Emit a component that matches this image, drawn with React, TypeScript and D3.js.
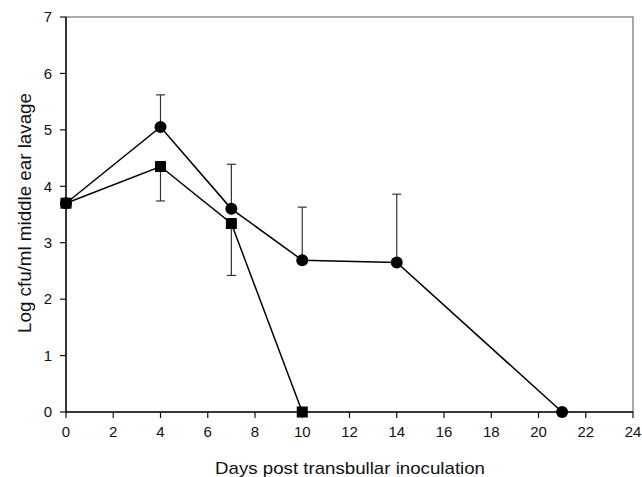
import React from "react";
import * as d3 from "d3";

const circleDays = [0, 4, 7, 10, 14, 21];
const circleValues = [3.7, 5.05, 3.6, 2.69, 2.65, 0];
const circleErrUp = [null, 5.62, 4.39, 3.63, 3.86, null];

const squareDays = [0, 4, 7, 10];
const squareValues = [3.7, 4.35, 3.34, 0];
const squareErrDown = [null, 3.74, 2.42, null];

const xTicks = [0, 2, 4, 6, 8, 10, 12, 14, 16, 18, 20, 22, 24];
const yTicks = [0, 1, 2, 3, 4, 5, 6, 7];

const W = 642;
const H = 477;
const margin = { left: 66, right: 9, top: 17, bottom: 65 };

export default function App() {
  const x = d3.scaleLinear().domain([0, 24]).range([margin.left, W - margin.right]);
  const y = d3.scaleLinear().domain([0, 7]).range([H - margin.bottom, margin.top]);
  const line = d3
    .line<[number, number]>()
    .x((d) => x(d[0]))
    .y((d) => y(d[1]));
  const circPts: [number, number][] = circleDays.map((d, i) => [d, circleValues[i]]);
  const sqPts: [number, number][] = squareDays.map((d, i) => [d, squareValues[i]]);
  const font = "'Liberation Sans', Arial, sans-serif";
  const x0 = x(0);
  const y0 = y(0);
  const cap = 4.5;
  return (
    <svg
      width={W}
      height={H}
      style={{ position: "absolute", left: 0, top: 0, display: "block", background: "#fff" }}
      fontFamily={font}
    >
      {/* frame */}
      <rect x={x(0)} y={y(7)} width={x(24) - x(0)} height={y(0) - y(7)} fill="none" stroke="#555" strokeWidth={1} />
      <line x1={x0} x2={x0} y1={y(7)} y2={y0} stroke="#111" strokeWidth={1.5} />
      <line x1={x0} x2={x(24)} y1={y0} y2={y0} stroke="#111" strokeWidth={1.5} />
      {/* y ticks */}
      {yTicks.map((t) => (
        <g key={"y" + t}>
          <line x1={x0 - 6} x2={x0} y1={y(t)} y2={y(t)} stroke="#111" strokeWidth={1.2} />
          <text x={x0 - 14} y={y(t)} dy="0.35em" textAnchor="end" fontSize={15} fill="#111">
            {t}
          </text>
        </g>
      ))}
      {/* x ticks */}
      {xTicks.map((t) => (
        <g key={"x" + t}>
          <line x1={x(t)} x2={x(t)} y1={y0} y2={y0 + 6} stroke="#111" strokeWidth={1.2} />
          <text x={x(t)} y={y0 + 25} textAnchor="middle" fontSize={15} fill="#111">
            {t}
          </text>
        </g>
      ))}
      {/* axis titles */}
      <text
        transform={`translate(31, 213) rotate(-90)`}
        textAnchor="middle"
        fontSize={17.5}
        textLength={240}
        lengthAdjust="spacingAndGlyphs"
        fill="#111"
      >
        Log cfu/ml middle ear lavage
      </text>
      <text
        x={350}
        y={474}
        textAnchor="middle"
        fontSize={17}
        textLength={270}
        lengthAdjust="spacingAndGlyphs"
        fill="#111"
      >
        Days post transbullar inoculation
      </text>
      {/* error bars */}
      {circleDays.map((d, i) =>
        circleErrUp[i] == null ? null : (
          <g key={"ce" + i} stroke="#333" strokeWidth={1.2}>
            <line x1={x(d)} x2={x(d)} y1={y(circleValues[i])} y2={y(circleErrUp[i] as number)} />
            <line x1={x(d) - cap} x2={x(d) + cap} y1={y(circleErrUp[i] as number)} y2={y(circleErrUp[i] as number)} />
          </g>
        )
      )}
      {squareDays.map((d, i) =>
        squareErrDown[i] == null ? null : (
          <g key={"se" + i} stroke="#333" strokeWidth={1.2}>
            <line x1={x(d)} x2={x(d)} y1={y(squareValues[i])} y2={y(squareErrDown[i] as number)} />
            <line x1={x(d) - cap} x2={x(d) + cap} y1={y(squareErrDown[i] as number)} y2={y(squareErrDown[i] as number)} />
          </g>
        )
      )}
      {/* lines */}
      <path d={line(circPts) || ""} fill="none" stroke="#000" strokeWidth={1.5} />
      <path d={line(sqPts) || ""} fill="none" stroke="#000" strokeWidth={1.5} />
      {/* markers */}
      {circPts.map((p, i) => (
        <circle key={"c" + i} cx={x(p[0])} cy={y(p[1])} r={6} fill="#000" />
      ))}
      {sqPts.map((p, i) => (
        <rect key={"s" + i} x={x(p[0]) - 5.5} y={y(p[1]) - 5.5} width={11} height={11} fill="#000" />
      ))}
    </svg>
  );
}
